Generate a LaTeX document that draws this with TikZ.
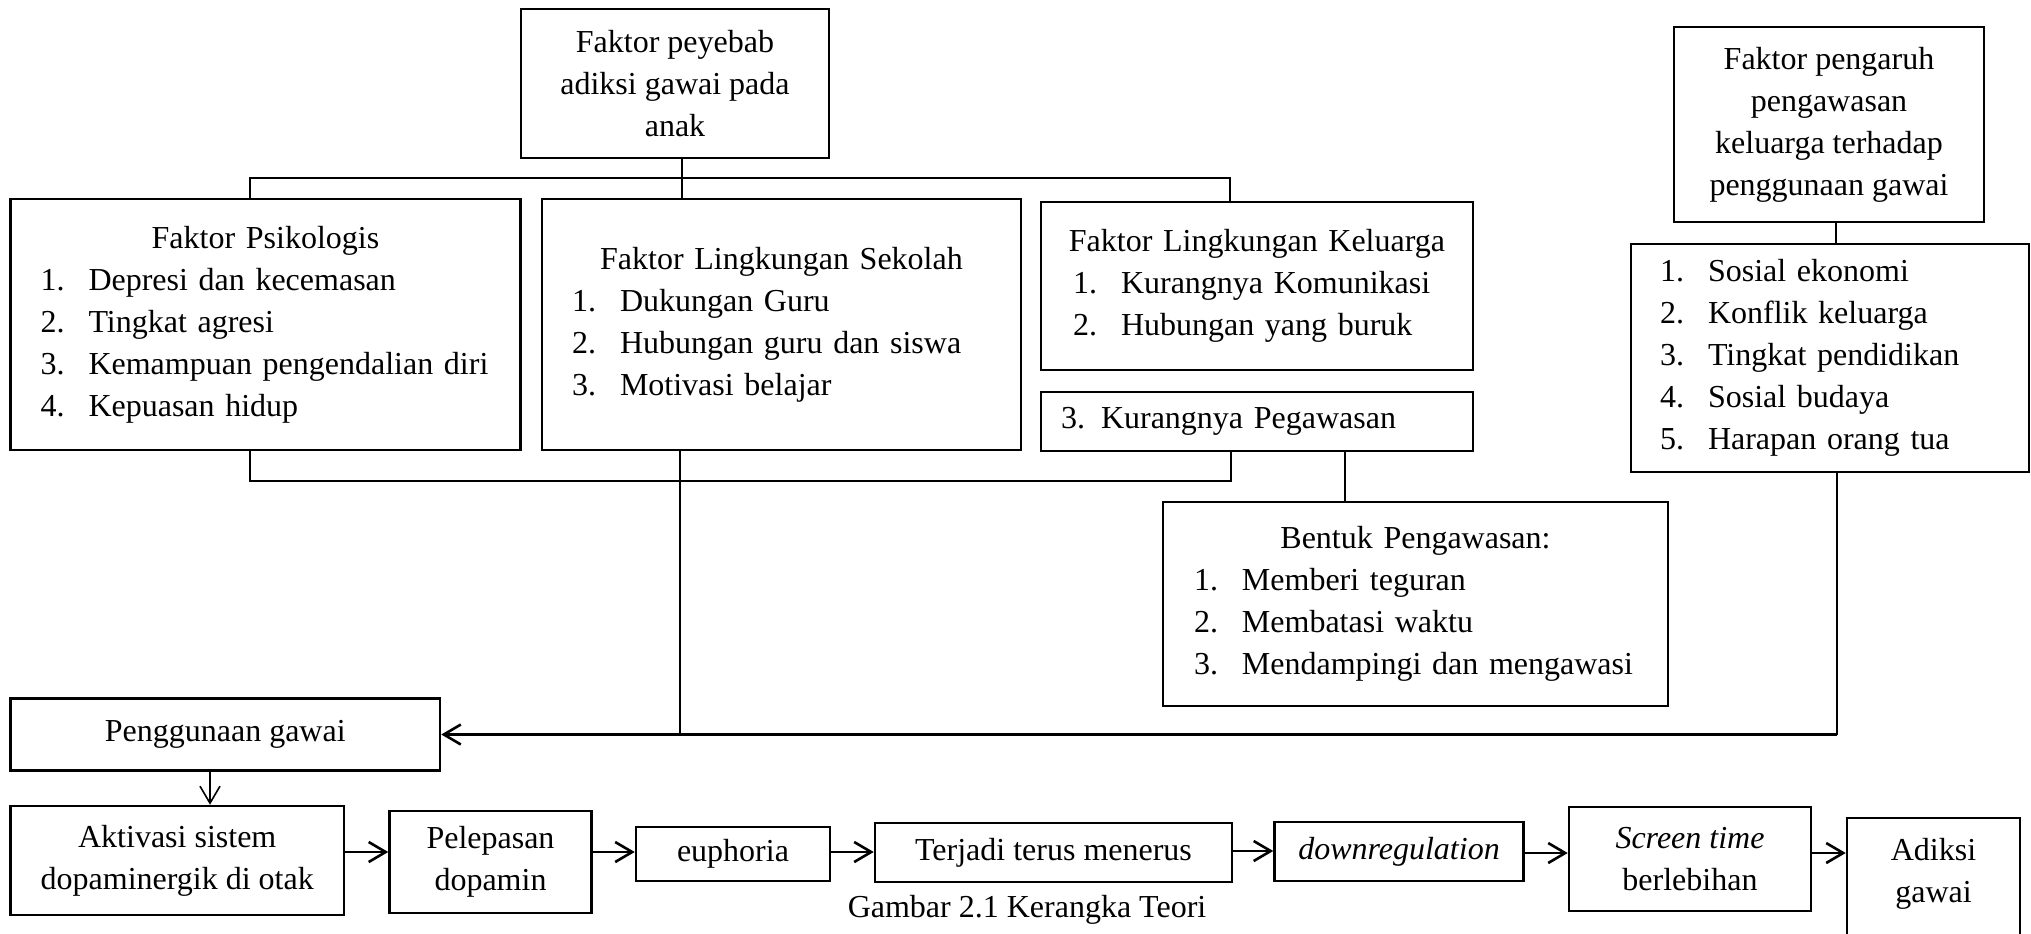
\documentclass[tikz,border=0pt]{standalone}
\usepackage{fontspec}
\setmainfont{Liberation Serif}
\usetikzlibrary{arrows.meta,calc}
\newcommand\itm[2]{\makebox[24pt][l]{#1}#2}
\newcommand\ttl[1]{\makebox[\hsize][c]{#1}}
\begin{document}
\begin{tikzpicture}[x=0.5pt,y=-0.5pt,
  box/.style={draw,line width=1.25pt,inner sep=0pt,align=center,font=\fontsize{16}{21}\selectfont},
  lst/.style={box,align=left},
  con/.style={line width=0.8pt},
  arr/.style={line width=1.3pt,-{Straight Barb[length=8.5pt,width=10pt]}},
  darr/.style={line width=0.8pt,-{Straight Barb[length=8.5pt,width=10pt]}},
]
\clip (0,0) rectangle (2031,933);
\useasboundingbox (0,0) rectangle (2031,933);

% top part
\node[box,minimum width=154pt,minimum height=74.5pt] (top) at (675,83.5)
  {Faktor peyebab\\adiksi gawai pada\\anak};
\node[lst,minimum width=255pt,minimum height=125.5pt,text width=225pt] (psi) at (265.5,324.5)
  {\ttl{Faktor Psikologis}\\\itm{1.}{Depresi dan kecemasan}\\\itm{2.}{Tingkat agresi}\\\itm{3.}{Kemampuan pengendalian diri}\\\itm{4.}{Kepuasan hidup}};
\node[lst,minimum width=239.5pt,minimum height=125.5pt,text width=209.5pt] (sek) at (781.5,324.5)
  {\ttl{Faktor Lingkungan Sekolah}\\\itm{1.}{Dukungan Guru}\\\itm{2.}{Hubungan guru dan siswa}\\\itm{3.}{Motivasi belajar}};
\node[lst,minimum width=216pt,minimum height=84pt,text width=184pt] (kel) at (1257,286)
  {\ttl{Faktor Lingkungan Keluarga}\\\itm{1.}{Kurangnya Komunikasi}\\\itm{2.}{Hubungan yang buruk}};
\node[lst,minimum width=216pt,minimum height=29.5pt,text width=196pt] (kp) at (1257,421.5)
  {3. Kurangnya Pegawasan};
\node[box,minimum width=155pt,minimum height=97.5pt] (fp) at (1829,124.5)
  {Faktor pengaruh\\pengawasan\\keluarga terhadap\\penggunaan gawai};
\node[lst,minimum width=199pt,minimum height=114pt,text width=170pt] (rl) at (1830,358)
  {\itm{1.}{Sosial ekonomi}\\\itm{2.}{Konflik keluarga}\\\itm{3.}{Tingkat pendidikan}\\\itm{4.}{Sosial budaya}\\\itm{5.}{Harapan orang tua}};
\node[lst,minimum width=252.5pt,minimum height=102pt,text width=221.5pt] (ben) at (1415.5,604)
  {\ttl{Bentuk Pengawasan:}\\\itm{1.}{Memberi teguran}\\\itm{2.}{Membatasi waktu}\\\itm{3.}{Mendampingi dan mengawasi}};

% bottom part
\node[box,minimum width=214.75pt,minimum height=36pt] (peng) at (225.25,734.5) {Penggunaan gawai};
\node[box,minimum width=166.75pt,minimum height=54.5pt] (akt) at (177.25,860.5) {Aktivasi sistem\\dopaminergik di otak};
\node[box,minimum width=101pt,minimum height=51pt] (pel) at (490.5,862) {Pelepasan\\dopamin};
\node[box,minimum width=97pt,minimum height=27pt] (eup) at (733,854) {euphoria};
\node[box,minimum width=178.5pt,minimum height=29.5pt] (ter) at (1053.5,852.5) {Terjadi terus menerus};
\node[box,minimum width=124.5pt,minimum height=29.5pt] (dwn) at (1399,851.5) {\itshape downregulation};
\node[box,minimum width=121pt,minimum height=52pt] (scr) at (1690,859) {{\itshape Screen time}\\berlebihan};
\node[box,minimum width=86.5pt,minimum height=71pt] (adk) at (1933.5,889) {Adiksi\\gawai\\[-2pt]\mbox{}};
\node[font=\fontsize{16}{21}\selectfont,anchor=base,inner sep=0pt] (cap) at (1027,917) {Gambar 2.1 Kerangka Teori};

% tree connectors
\coordinate (bL) at (250,178);
\coordinate (bM) at (682,178);
\coordinate (bR) at (1230,178);
\draw[con] (top.south -| bM) -- (sek.north -| bM);
\draw[con] (psi.north -| bL) -- (bL) -- (bR) -- (kel.north -| bR);

\coordinate (lL) at (250,481);
\coordinate (lR) at (1231,481);
\draw[con] (psi.south -| lL) -- (lL) -- (lR) -- (kp.south -| lR);

\coordinate (kx) at (1345,0);
\draw[con] (kp.south -| kx) -- (ben.north -| kx);
\coordinate (fx) at (1836,0);
\draw[con] (fp.south -| fx) -- (rl.north -| fx);

\coordinate (sx) at (680,0);
\draw[con] (sek.south -| sx) -- (peng.east -| sx);
\coordinate (rx) at (1837,0);
\draw[con] (rl.south -| rx) -- (peng.east -| rx);
\draw[arr] (peng.east -| rx) -- (peng.east);

% chain
\coordinate (dx) at (210,0);
\draw[darr] (peng.south -| dx) -- (akt.north -| dx);
\coordinate (y1) at (0,852);
\coordinate (y2) at (0,852);
\coordinate (y3) at (0,852);
\coordinate (y4) at (0,851);
\coordinate (y5) at (0,853);
\coordinate (y6) at (0,853);
\draw[arr] (akt.east |- y1) -- (pel.west |- y1);
\draw[arr] (pel.east |- y2) -- (eup.west |- y2);
\draw[arr] (eup.east |- y3) -- (ter.west |- y3);
\draw[arr] (ter.east |- y4) -- (dwn.west |- y4);
\draw[arr] (dwn.east |- y5) -- (scr.west |- y5);
\draw[arr] (scr.east |- y6) -- (adk.west |- y6);
\end{tikzpicture}
\end{document}
